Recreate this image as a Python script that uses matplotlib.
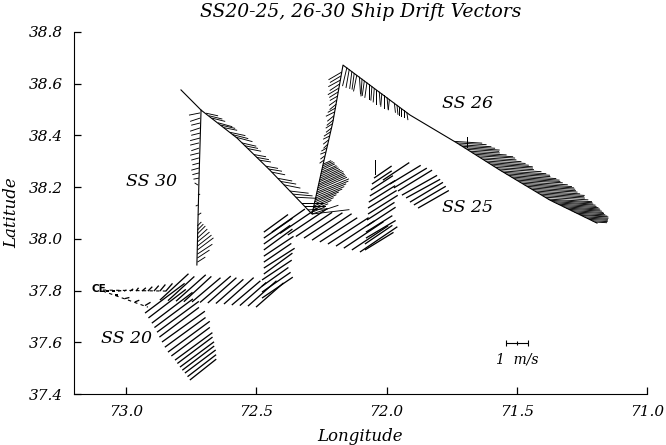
import matplotlib
matplotlib.use("Agg")
import matplotlib.pyplot as plt
import matplotlib.ticker as mticker

# Ship drift vectors: positions in deg W / deg N, drift components u (east), v (north) in m/s

# ---- SS26-30 cruise track (solid line)
track26_lon = [71.192, 71.373, 71.565, 71.730, 71.910, 72.167, 72.206, 72.244, 72.286,
               72.448, 72.574, 72.712, 72.720, 72.728]
track26_lat = [38.061, 38.150, 38.266, 38.371, 38.479, 38.672, 38.452, 38.286, 38.096,
               38.266, 38.390, 38.498, 38.227, 37.899]
stub26_lon = [72.712, 72.789]
stub26_lat = [38.498, 38.576]

# SS26, long leg toward the SE (dense eastward drift)
ss26a_lon = [71.74, 71.72, 71.70, 71.68, 71.66, 71.64, 71.62, 71.60, 71.58, 71.56,
             71.54, 71.52, 71.50, 71.48, 71.46, 71.44, 71.42, 71.40, 71.38, 71.36,
             71.34, 71.32, 71.30, 71.28, 71.26, 71.24, 71.22, 71.20, 71.688,
             71.73, 71.71, 71.69, 71.67, 71.65, 71.63, 71.61, 71.59, 71.57, 71.55,
             71.53, 71.51, 71.49, 71.47, 71.45, 71.43, 71.41, 71.39, 71.37, 71.35,
             71.33, 71.31, 71.29, 71.27, 71.25, 71.23, 71.21]
ss26a_lat = [38.377, 38.364, 38.352, 38.339, 38.327, 38.314, 38.301, 38.289, 38.276, 38.263,
             38.251, 38.239, 38.227, 38.215, 38.203, 38.191, 38.179, 38.167, 38.154, 38.144,
             38.134, 38.124, 38.114, 38.104, 38.094, 38.085, 38.075, 38.065, 38.351,
             38.371, 38.358, 38.346, 38.333, 38.321, 38.308, 38.295, 38.283, 38.270, 38.257,
             38.245, 38.233, 38.221, 38.209, 38.197, 38.185, 38.173, 38.161, 38.149, 38.139,
             38.129, 38.119, 38.109, 38.099, 38.090, 38.080, 38.070]
ss26a_u = [1.27, 1.45, 1.59, 1.36, 1.73, 1.64, 1.82, 1.91, 1.73, 2.05,
           2.00, 2.18, 2.09, 2.27, 2.18, 2.05, 2.14, 1.91, 2.00, 1.82,
           1.73, 1.64, 1.50, 1.36, 1.27, 1.09, 0.82, 0.55, 0.0,
           1.35, 1.50, 1.45, 1.55, 1.70, 1.75, 1.85, 1.80, 1.95, 2.10,
           2.15, 2.10, 2.20, 2.25, 2.10, 2.05, 2.00, 1.95, 1.90, 1.80,
           1.70, 1.55, 1.45, 1.30, 1.20, 0.95, 0.70]
ss26a_v = [-0.08, -0.09, -0.10, -0.08, -0.11, -0.10, -0.11, -0.12, -0.10, -0.13,
           -0.12, -0.14, -0.12, -0.15, -0.13, -0.12, -0.13, -0.11, -0.12, -0.11,
           -0.10, -0.10, -0.08, -0.07, -0.07, -0.06, -0.04, -0.03, 0.5,
           -0.08, -0.09, -0.09, -0.10, -0.10, -0.11, -0.12, -0.11, -0.12, -0.13,
           -0.14, -0.13, -0.14, -0.14, -0.13, -0.13, -0.12, -0.12, -0.11, -0.10,
           -0.10, -0.09, -0.08, -0.07, -0.06, -0.05, -0.04]

# SS26, from the northern peak down the NW-SE leg (southward drift)
ss26b_lon = [72.152, 72.133, 72.114, 72.094, 72.075, 72.056, 72.037, 72.018, 71.998,
             71.979, 71.960, 71.941, 71.922,
             72.143, 72.124, 72.104, 72.085, 72.066, 72.047, 72.028, 72.008, 71.989,
             71.970, 71.951, 71.932]
ss26b_lat = [38.663, 38.648, 38.634, 38.619, 38.605, 38.590, 38.576, 38.562, 38.547,
             38.533, 38.518, 38.504, 38.489,
             38.656, 38.641, 38.627, 38.612, 38.598, 38.583, 38.569, 38.555, 38.540,
             38.526, 38.511, 38.497]
ss26b_u = [-0.20, -0.10, -0.15, -0.05, -0.10, -0.05, 0.0, -0.05, 0.05, 0.0, 0.05, 0.0, 0.05,
           -0.15, -0.10, 0.05, -0.10, 0.0, -0.05, 0.05, 0.0, -0.05, 0.05, 0.0, 0.0]
ss26b_v = [-0.85, -0.80, -0.75, -0.80, -0.70, -0.65, -0.70, -0.60, -0.55, -0.50, -0.45, -0.40, -0.35,
           -0.85, -0.75, -0.80, -0.70, -0.70, -0.65, -0.60, -0.60, -0.50, -0.45, -0.40, -0.35]

# SS27-28, leg from the peak south to the V bottom
ss27_lon = [72.172, 72.177, 72.183, 72.188, 72.193, 72.199, 72.204, 72.211, 72.218, 72.225,
            72.233, 72.240,
            72.175, 72.180, 72.186, 72.191, 72.196, 72.202, 72.208, 72.215, 72.222, 72.229,
            72.237,
            72.243, 72.247, 72.250, 72.253, 72.257, 72.260, 72.264, 72.267, 72.270, 72.274,
            72.277, 72.281, 72.284, 72.286, 72.286,
            72.245, 72.249, 72.252, 72.255, 72.259, 72.262, 72.266, 72.269, 72.272, 72.276,
            72.279, 72.283]
ss27_lat = [38.645, 38.614, 38.583, 38.552, 38.521, 38.491, 38.460, 38.429, 38.398, 38.367,
            38.336, 38.305,
            38.630, 38.599, 38.568, 38.537, 38.506, 38.476, 38.445, 38.414, 38.383, 38.352,
            38.321,
            38.289, 38.274, 38.258, 38.243, 38.227, 38.212, 38.197, 38.181, 38.166, 38.150,
            38.135, 38.119, 38.104, 38.096, 38.096,
            38.282, 38.266, 38.251, 38.235, 38.220, 38.205, 38.189, 38.174, 38.158, 38.143,
            38.127, 38.112]
ss27_u = [-0.60, -0.55, -0.50, -0.35, -0.30, -0.40, -0.30, -0.25, -0.30, -0.20,
          -0.25, -0.20,
          -0.50, -0.45, -0.40, -0.35, -0.35, -0.30, -0.30, -0.30, -0.25, -0.25,
          -0.20,
          0.36, 0.55, 0.68, 0.82, 1.00, 1.14, 1.27, 1.45, 1.36, 1.23,
          1.00, 0.82, 0.55, 1.70, 1.20,
          0.45, 0.60, 0.75, 0.90, 1.10, 1.20, 1.35, 1.45, 1.30, 1.10,
          0.90, 0.70]
ss27_v = [-0.35, -0.30, -0.30, -0.20, -0.25, -0.20, -0.25, -0.20, -0.15, -0.20,
          -0.10, -0.15,
          -0.30, -0.30, -0.25, -0.25, -0.20, -0.25, -0.20, -0.20, -0.20, -0.15,
          -0.15,
          0.16, 0.25, 0.30, 0.37, 0.45, 0.50, 0.55, 0.60, 0.55, 0.50,
          0.42, 0.35, 0.22, 0.20, 0.40,
          0.20, 0.28, 0.33, 0.40, 0.48, 0.52, 0.58, 0.58, 0.52, 0.45,
          0.38, 0.28]

# SS29-30, diagonal leg NW and the southward leg
ss30_lon = [72.693, 72.670, 72.647, 72.624, 72.601, 72.578, 72.555, 72.532, 72.509, 72.486,
            72.463, 72.440, 72.417, 72.394, 72.371, 72.348, 72.325, 72.302,
            72.681, 72.636, 72.590, 72.544, 72.498, 72.452, 72.406, 72.360, 72.314,
            72.716, 72.716, 72.716, 72.716, 72.716, 72.716, 72.720, 72.720, 72.720, 72.720,
            72.720, 72.720, 72.720, 72.720,
            72.724, 72.724, 72.724, 72.724,
            72.726, 72.726, 72.726, 72.726, 72.726, 72.726, 72.726, 72.726, 72.726, 72.726]
ss30_lat = [38.486, 38.467, 38.449, 38.430, 38.412, 38.393, 38.371, 38.349, 38.326, 38.304,
            38.281, 38.258, 38.234, 38.209, 38.185, 38.161, 38.136, 38.112,
            38.476, 38.440, 38.403, 38.360, 38.315, 38.270, 38.222, 38.173, 38.124,
            38.487, 38.467, 38.448, 38.429, 38.409, 38.390, 38.371, 38.351, 38.332, 38.313,
            38.293, 38.274, 38.255, 38.235,
            38.208, 38.169, 38.131, 38.092,
            38.050, 38.034, 38.019, 38.003, 37.988, 37.972, 37.957, 37.941, 37.926, 37.910]
ss30_u = [0.55, 0.60, 0.65, 0.60, 0.70, 0.75, 0.65, 0.60, 0.55, 0.50,
          0.55, 0.60, 0.65, 0.75, 0.85, 0.95, 1.00, 0.90,
          0.60, 0.65, 0.70, 0.60, 0.55, 0.60, 0.70, 0.90, 0.95,
          -0.50, -0.45, -0.40, -0.45, -0.40, -0.45, -0.40, -0.35, -0.40, -0.35,
          -0.30, -0.35, -0.30, -0.25,
          -0.15, 0.10, -0.10, 0.15,
          0.18, 0.27, 0.36, 0.45, 0.55, 0.64, 0.73, 0.68, 0.55, 0.36]
ss30_v = [-0.12, -0.15, -0.18, -0.12, -0.15, -0.20, -0.15, -0.12, -0.10, -0.08,
          -0.10, -0.12, -0.12, -0.15, -0.10, -0.05, 0.0, 0.05,
          -0.15, -0.15, -0.18, -0.12, -0.10, -0.10, -0.12, -0.08, 0.0,
          -0.10, -0.15, -0.10, -0.15, -0.10, -0.12, -0.10, -0.12, -0.10, -0.10,
          -0.08, -0.10, -0.08, -0.05,
          0.10, 0.05, -0.05, 0.10,
          0.18, 0.27, 0.36, 0.41, 0.45, 0.50, 0.55, 0.45, 0.36, 0.23]

# ---- SS20-25 cruise (bold vectors)
ce_a_lon = [73.089, 72.843]
ce_a_lat = [37.802, 37.798]
ce_b_lon = [73.089, 72.916]
ce_b_lat = [37.798, 37.736]

ss20_lon = [73.077, 73.054, 73.031, 73.008, 72.985, 72.962, 72.939, 72.916, 72.893, 72.870, 72.847,
            73.043, 73.004, 72.966, 72.927,
            72.927, 72.914, 72.901, 72.891, 72.881, 72.872, 72.862, 72.851, 72.839, 72.826,
            72.812, 72.803, 72.793, 72.784, 72.774, 72.764, 72.755]
ss20_lat = [37.798, 37.798, 37.798, 37.798, 37.798, 37.798, 37.798, 37.798, 37.798, 37.798, 37.798,
            37.783, 37.769, 37.756, 37.742,
            37.713, 37.694, 37.674, 37.657, 37.639, 37.620, 37.601, 37.581, 37.562, 37.547,
            37.531, 37.518, 37.504, 37.492, 37.481, 37.467, 37.454]
ss20_u = [0.15, 0.15, 0.15, 0.12, 0.15, 0.12, 0.18, 0.20, 0.22, 0.25, 0.30,
          0.15, 0.20, 0.20, 0.25,
          1.80, 1.70, 1.85, 1.75, 1.90, 1.80, 1.95, 1.85, 1.90, 1.75,
          1.70, 1.60, 1.55, 1.45, 1.40, 1.30, 1.20]
ss20_v = [0.0, 0.0, 0.02, 0.05, 0.10, 0.15, 0.15, 0.20, 0.25, 0.30, 0.35,
          0.0, 0.05, 0.08, 0.15,
          1.35, 1.30, 1.40, 1.30, 1.40, 1.35, 1.40, 1.35, 1.40, 1.30,
          1.25, 1.20, 1.15, 1.10, 1.05, 1.00, 0.95]

ss21_lon = [72.870, 72.839, 72.808, 72.778, 72.747, 72.716, 72.686, 72.655, 72.624, 72.594,
            72.563, 72.532, 72.501,
            72.478, 72.478, 72.478, 72.478, 72.471, 72.471, 72.471, 72.471, 72.471, 72.471,
            72.471, 72.471]
ss21_lat = [37.763, 37.761, 37.759, 37.757, 37.756, 37.754, 37.752, 37.750, 37.748, 37.744,
            37.742, 37.740, 37.736,
            37.771, 37.794, 37.817, 37.841, 37.864, 37.887, 37.910, 37.933, 37.957, 37.980,
            38.003, 38.026]
ss21_u = [1.30, 1.20, 1.35, 1.25, 1.30, 1.40, 1.30, 1.25, 1.35, 1.30, 1.20, 1.30, 1.25,
          1.40, 1.30, 1.20, 1.35, 1.30, 1.40, 1.25, 1.35, 1.30, 1.20, 1.30, 1.10]
ss21_v = [1.20, 1.10, 1.20, 1.15, 1.10, 1.20, 1.15, 1.10, 1.20, 1.10, 1.05, 1.15, 1.10,
          0.95, 0.90, 0.85, 0.90, 0.95, 0.90, 0.85, 0.90, 0.95, 0.85, 0.90, 0.80]

ss23_lon = [72.440, 72.409, 72.379, 72.348, 72.317, 72.286, 72.256, 72.225, 72.194, 72.164,
            72.133, 72.102]
ss23_lat = [38.026, 38.021, 38.015, 38.009, 38.003, 37.995, 37.988, 37.980, 37.972, 37.964,
            37.957, 37.949]
ss23_u = [1.50, 1.70, 1.80, 1.65, 1.75, 1.80, 1.70, 1.85, 1.75, 1.80, 1.65, 1.70]
ss23_v = [1.05, 1.15, 1.20, 1.10, 1.15, 1.20, 1.10, 1.20, 1.15, 1.20, 1.10, 1.15]

ss25_lon = [72.083, 72.083, 72.079, 72.079, 72.075, 72.075, 72.071, 72.071, 72.068, 72.064,
            72.060, 72.056, 72.048, 72.041, 72.014,
            71.987, 71.972, 71.956, 71.941, 71.925, 71.910, 71.895, 71.879]
ss25_lat = [37.957, 37.980, 38.003, 38.026, 38.050, 38.073, 38.096, 38.119, 38.142, 38.166,
            38.189, 38.212, 38.235, 38.305, 38.227,
            38.212, 38.197, 38.185, 38.169, 38.158, 38.142, 38.131, 38.119]
ss25_u = [1.30, 1.25, 1.35, 1.20, 1.30, 1.25, 1.35, 1.30, 1.20, 1.15, 1.00, 0.90, 0.80, 0.0, 1.20,
          1.40, 1.50, 1.55, 1.60, 1.55, 1.50, 1.45, 1.40]
ss25_v = [0.80, 0.85, 0.80, 0.75, 0.85, 0.80, 0.85, 0.80, 0.75, 0.70, 0.65, 0.60, 0.55, -0.70, 0.80,
          0.85, 0.90, 0.95, 0.90, 0.85, 0.90, 0.85, 0.80]

# label positions
labels = ["SS 30", "SS 26", "SS 25", "SS 20"]
label_lon = [72.901, 71.688, 71.691, 72.997]
label_lat = [38.220, 38.525, 38.123, 37.616]

PX_PER_MS = 22.0   # 1 m/s drawn as 22 pixels

fig = plt.figure(figsize=(6.66, 4.45), dpi=100)
ax = fig.add_axes([0.111, 0.1146, 0.8605, 0.8135])

# tracks
ax.plot(track26_lon, track26_lat, color="black", lw=0.8)
ax.plot(stub26_lon, stub26_lat, color="black", lw=0.8)
ax.plot(ce_a_lon, ce_a_lat, color="black", lw=0.8, ls=(0, (3, 3)))
ax.plot(ce_b_lon, ce_b_lat, color="black", lw=0.8, ls=(0, (3, 3)))

# vectors drawn in screen space: u to the right (east), v up (north)
lon26 = ss26a_lon + ss26b_lon + ss27_lon + ss30_lon
lat26 = ss26a_lat + ss26b_lat + ss27_lat + ss30_lat
u26 = ss26a_u + ss26b_u + ss27_u + ss30_u
v26 = ss26a_v + ss26b_v + ss27_v + ss30_v
ax.quiver(lon26, lat26, u26, v26, angles="uv", scale_units="dots", scale=1 / PX_PER_MS,
          units="dots", width=0.9, headwidth=0, headlength=0, headaxislength=0,
          minlength=0, color="black")

lon20 = ss20_lon + ss21_lon + ss23_lon + ss25_lon
lat20 = ss20_lat + ss21_lat + ss23_lat + ss25_lat
u20 = ss20_u + ss21_u + ss23_u + ss25_u
v20 = ss20_v + ss21_v + ss23_v + ss25_v
ax.quiver(lon20, lat20, u20, v20, angles="uv", scale_units="dots", scale=1 / PX_PER_MS,
          units="dots", width=1.3, headwidth=0, headlength=0, headaxislength=0,
          minlength=0, color="black")

# scale bar 1 m/s (22 px = 0.0845 deg of longitude)
ax.errorbar([71.499], [37.597], xerr=[0.5 * PX_PER_MS / 260.5], fmt="|", color="black",
            ms=3, mew=0.8, elinewidth=0.8, capsize=2.5, capthick=0.8)
ax.text(71.499, 37.535, "1  m/s", ha="center", va="center", fontsize=10,
        family="DejaVu Serif", style="italic")

for name, x, y in zip(labels, label_lon, label_lat):
    ax.text(x, y, name, ha="center", va="center", fontsize=12.5,
            family="DejaVu Serif", style="italic")
ax.text(73.104, 37.806, "CE", ha="center", va="center", fontsize=7.5, fontweight="bold",
        family="DejaVu Sans")

ax.set_xlim(73.2, 71.0)
ax.set_ylim(37.4, 38.8)
ax.set_xticks([73.0, 72.5, 72.0, 71.5, 71.0])
ax.set_yticks([37.4, 37.6, 37.8, 38.0, 38.2, 38.4, 38.6, 38.8])
ax.xaxis.set_major_formatter(mticker.FormatStrFormatter("%.1f"))
ax.yaxis.set_major_formatter(mticker.FormatStrFormatter("%.1f"))
ax.spines["top"].set_visible(False)
ax.spines["right"].set_visible(False)
ax.tick_params(direction="in", length=5, width=0.9, pad=8, labelsize=11)
for lab in ax.get_xticklabels() + ax.get_yticklabels():
    lab.set_family("DejaVu Serif")
    lab.set_style("italic")

ax.set_xlabel("Longitude", fontsize=12, family="DejaVu Serif", style="italic")
ax.set_ylabel("Latitude", fontsize=12, family="DejaVu Serif", style="italic")
ax.xaxis.set_label_coords(0.5, -0.094)
ax.yaxis.set_label_coords(-0.093, 0.5)

fig.text(0.542, 0.973, "SS20-25, 26-30 Ship Drift Vectors", ha="center", va="center",
         fontsize=13.5, family="DejaVu Serif", style="italic")

fig.savefig("out.png", dpi=100)
